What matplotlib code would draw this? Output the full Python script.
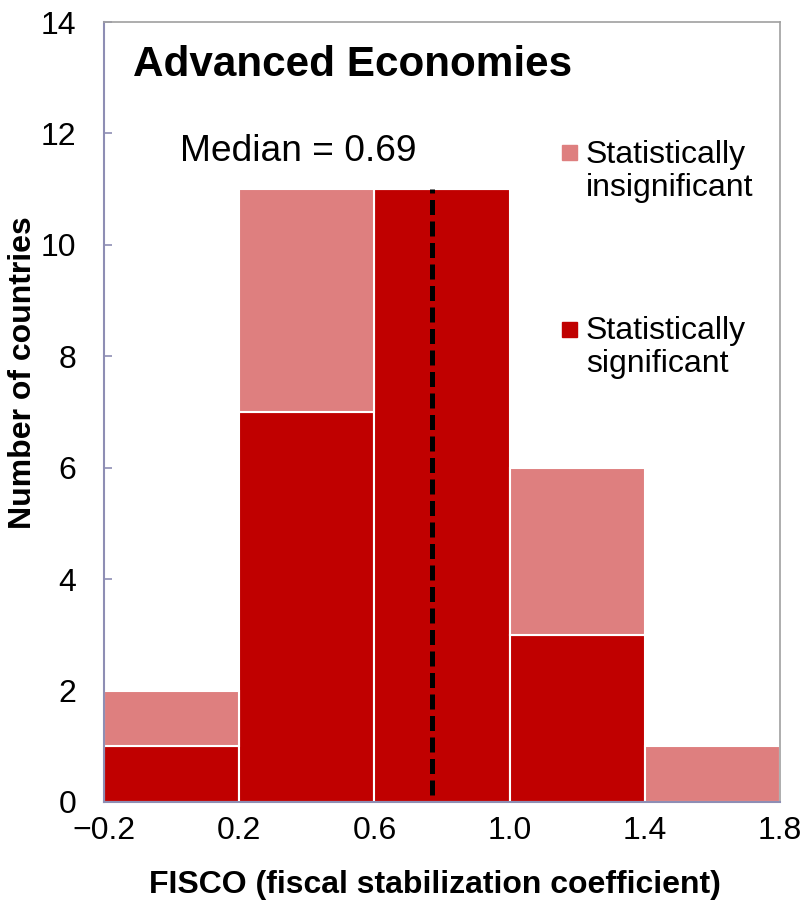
import numpy as np
import matplotlib.pyplot as plt

plt.rcParams['font.family'] = ['Liberation Sans', 'DejaVu Sans']

# histogram bins of FISCO, counts per bin
bin_edges = [-0.2, 0.2, 0.6, 1.0, 1.4, 1.8]
significant = [1, 7, 11, 3, 0]
insignificant = [1, 4, 0, 3, 1]
median_pos = 0.77
median_label = 'Median = 0.69'

col_sig = '#c00000'
col_insig = '#de7f7f'

fig = plt.figure(figsize=(8.09, 9.13), dpi=100)
ax = fig.add_axes([0.1286, 0.1216, 0.9642 - 0.1286, 0.9759 - 0.1216])

lefts = np.array(bin_edges[:-1])
widths = np.diff(bin_edges)
ax.bar(lefts, significant, width=widths, align='edge', color=col_sig,
       edgecolor='white', linewidth=1.5, zorder=2)
ax.bar(lefts, insignificant, width=widths, bottom=significant, align='edge',
       color=col_insig, edgecolor='white', linewidth=1.5, zorder=2)

ax.plot([median_pos, median_pos], [0.12, 11], color='black', lw=3.6,
        dashes=(3.0, 1.3), zorder=3)

ax.set_xlim(-0.2, 1.8)
ax.set_ylim(0, 14)
ax.set_xticks(bin_edges)
ax.set_xticklabels(['\u22120.2', '0.2', '0.6', '1.0', '1.4', '1.8'])
ax.set_yticks(range(0, 15, 2))

ax.tick_params(axis='y', direction='in', length=6, width=1.2, color='#8e8eb4',
               pad=20, labelsize=23)
ax.tick_params(axis='x', length=0, pad=10, labelsize=23)

for s in ['left', 'bottom']:
    ax.spines[s].set_color('#8e8eb4')
    ax.spines[s].set_linewidth(1.5)
for s in ['top', 'right']:
    ax.spines[s].set_color('#a0a0a0')
    ax.spines[s].set_linewidth(1.2)

ax.set_ylabel('Number of countries', fontsize=23, fontweight='bold')
ax.yaxis.set_label_coords(-0.098, 0.55)
ax.set_xlabel('FISCO (fiscal stabilization coefficient)', fontsize=23,
              fontweight='bold')
ax.xaxis.set_label_coords(0.49, -0.087)

ax.text(0.043, 0.945, 'Advanced Economies', transform=ax.transAxes,
        fontsize=30.4, fontweight='bold', va='center', ha='left')
ax.text(0.112, 0.834, median_label, transform=ax.transAxes,
        fontsize=26.7, va='center', ha='left')

# legend drawn by hand
ax.plot([0.688], [0.833], 's', color=col_insig, markersize=10.8,
        transform=ax.transAxes, clip_on=False)
ax.text(0.713, 0.808, 'Statistically\ninsignificant', transform=ax.transAxes,
        fontsize=23, va='center', ha='left', linespacing=1.15)
ax.plot([0.688], [0.606], 's', color=col_sig, markersize=10.8,
        transform=ax.transAxes, clip_on=False)
ax.text(0.713, 0.583, 'Statistically\nsignificant', transform=ax.transAxes,
        fontsize=23, va='center', ha='left', linespacing=1.15)

fig.savefig('out.png', dpi=100)
